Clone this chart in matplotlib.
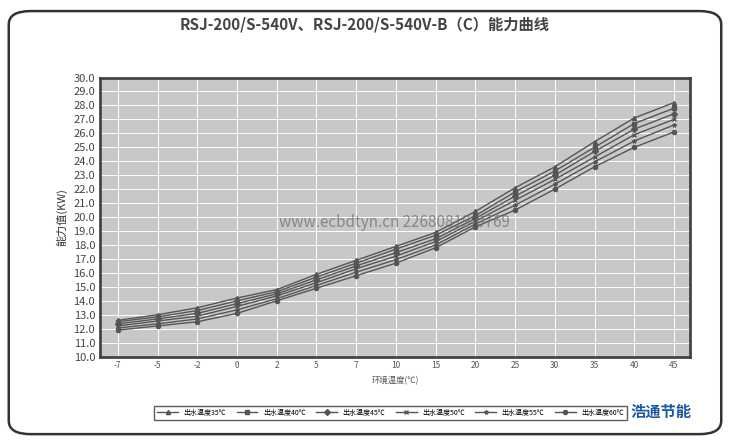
import matplotlib
matplotlib.use("Agg")
import matplotlib.pyplot as plt
from matplotlib.patches import FancyBboxPatch

plt.rcParams["font.family"] = ["Noto Sans CJK SC", "DejaVu Sans"]

temps = ["-7", "-5", "-2", "0", "2", "5", "7", "10", "15", "20", "25", "30", "35", "40", "45"]
labels = ["出水温度35℃", "出水温度40℃", "出水温度45℃", "出水温度50℃", "出水温度55℃", "出水温度60℃"]
s1 = [12.6, 13.0, 13.5, 14.2, 14.8, 15.9, 16.9, 17.9, 18.9, 20.4, 22.1, 23.6, 25.4, 27.1, 28.2]
s2 = [12.5, 12.85, 13.3, 14.0, 14.65, 15.7, 16.7, 17.7, 18.7, 20.1, 21.8, 23.3, 25.0, 26.7, 27.8]
s3 = [12.35, 12.7, 13.1, 13.8, 14.5, 15.5, 16.5, 17.45, 18.45, 19.9, 21.5, 23.0, 24.7, 26.3, 27.4]
s4 = [12.2, 12.55, 12.9, 13.6, 14.35, 15.3, 16.3, 17.2, 18.25, 19.7, 21.2, 22.7, 24.3, 25.9, 27.0]
s5 = [12.05, 12.35, 12.7, 13.35, 14.15, 15.1, 16.05, 16.95, 18.0, 19.5, 20.85, 22.35, 23.95, 25.45, 26.6]
s6 = [11.9, 12.2, 12.5, 13.1, 14.0, 14.9, 15.8, 16.7, 17.8, 19.3, 20.5, 22.0, 23.6, 25.0, 26.1]
series = [s1, s2, s3, s4, s5, s6]
markers = ["^", "s", "D", "x", "*", "o"]

fig = plt.figure(figsize=(7.3, 4.43), dpi=100)
fig.patches.append(FancyBboxPatch((0.012, 0.02), 0.976, 0.955, boxstyle="round,pad=0,rounding_size=0.03",
                                  transform=fig.transFigure, fill=False, lw=1.8, ec="#333333"))
ax = fig.add_axes([0.137, 0.195, 0.808, 0.63])
ax.set_facecolor("#c8c8c8")
x = list(range(len(temps)))
for s, m, lab in zip(series, markers, labels):
    ax.plot(x, s, color="#555555", lw=1.0, marker=m, ms=3, label=lab)
ax.set_xlim(-0.45, len(temps) - 0.6)
ax.set_ylim(10, 30)
ax.set_yticks([10 + i for i in range(21)])
ax.set_yticklabels([f"{10 + i:.1f}" for i in range(21)], fontsize=8, color="#444444")
ax.set_xticks(x)
ax.set_xticklabels(temps, fontsize=6, color="#555555")
ax.tick_params(length=0)
ax.grid(True, color="white", lw=0.7)
for sp in ax.spines.values():
    sp.set_linewidth(2)
    sp.set_color("#444444")
ax.set_ylabel("能力值(KW)", fontsize=8, color="#333333")
ax.set_xlabel("环境温度(℃)", fontsize=6, color="#555555")
fig.text(0.5, 0.945, "RSJ-200/S-540V、RSJ-200/S-540V-B（C）能力曲线", ha="center", va="center",
         fontsize=11, fontweight="bold", color="#444444")
ax.text(0.5, 0.465, "www.ecbdtyn.cn 22680819-0769", transform=ax.transAxes, ha="center",
        fontsize=11, color="#777777", alpha=0.8)
fig.legend(loc="center", bbox_to_anchor=(0.535, 0.068), ncol=6, fontsize=5, frameon=True,
           fancybox=False, edgecolor="#333333", handlelength=3, columnspacing=1.5)
fig.text(0.905, 0.07, "浩通节能", fontsize=11, fontweight="bold", color="#1a5aa0", ha="center", va="center")
fig.savefig("out.png", dpi=100)
